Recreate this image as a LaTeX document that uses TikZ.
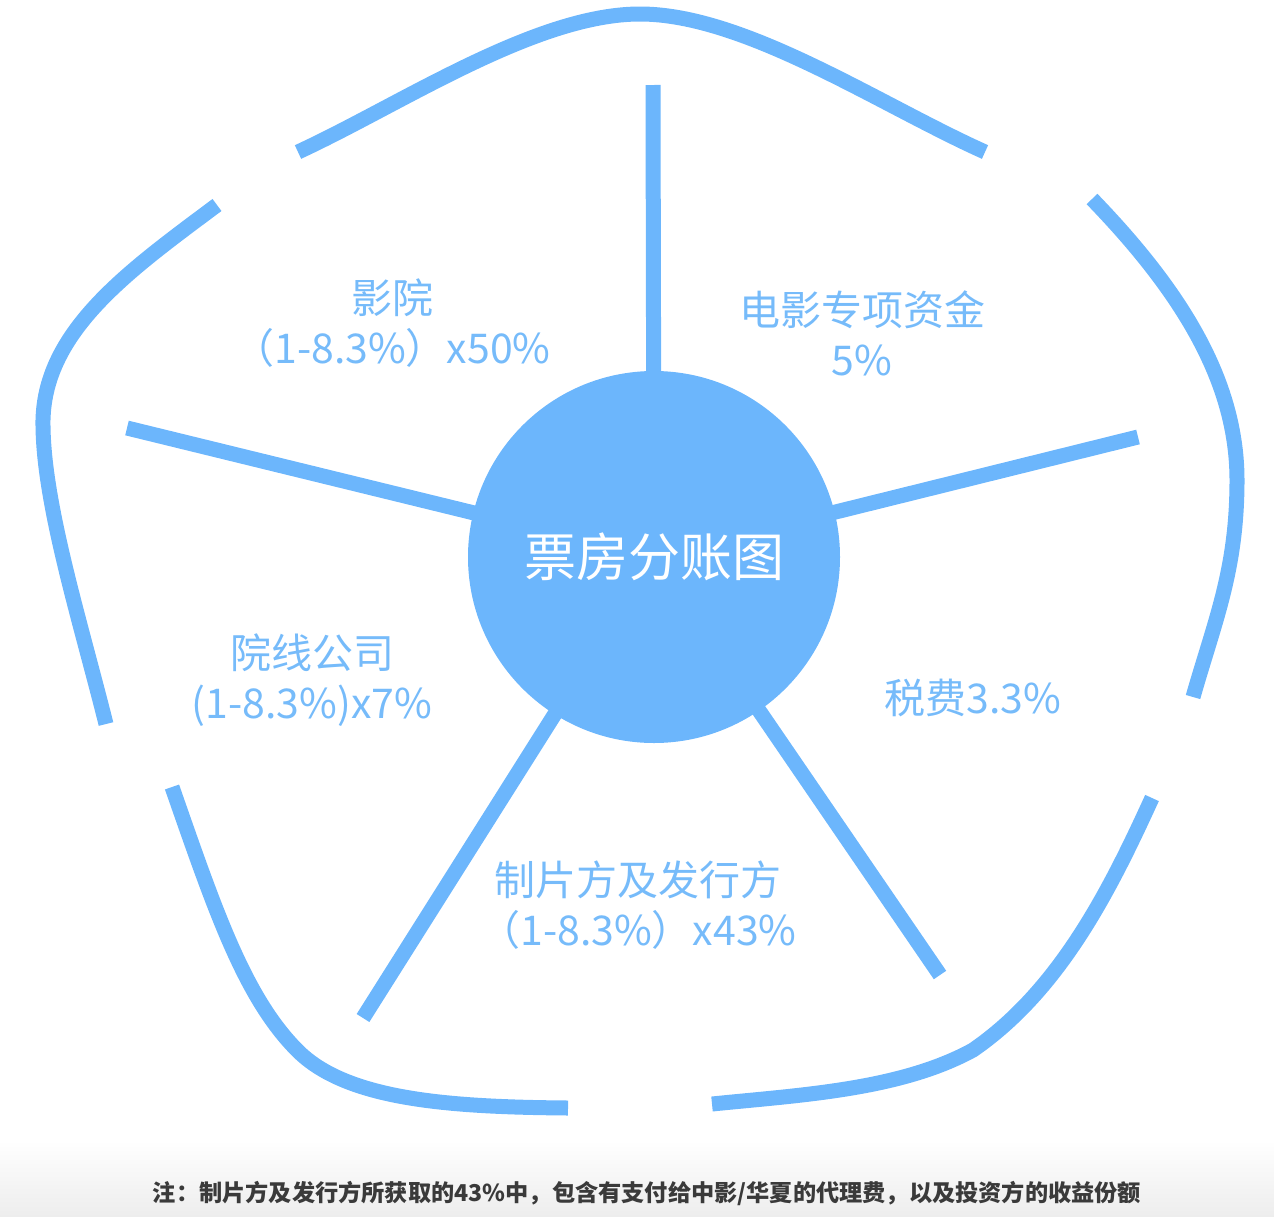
\documentclass[tikz,border=0pt]{standalone}
\usepackage{fontspec}
\newfontfamily\cjk{Noto Sans CJK SC}
\usetikzlibrary{positioning}
\definecolor{skyblue}{RGB}{108,182,252}
\definecolor{lblblue}{RGB}{118,187,250}
\definecolor{notegray}{RGB}{58,58,58}
\tikzset{
  rim/.style={draw=skyblue,line width=7.5pt},
  spoke/.style={draw=skyblue,line width=7.5pt},
  hubdisc/.style={circle,fill=skyblue,minimum size=186pt,inner sep=0pt,
    text=white,font=\cjk\fontsize{26}{30}\selectfont},
  lbl/.style={text=lblblue,align=center,inner sep=0pt,
    font=\cjk\fontsize{20.5}{25}\selectfont}
}
\begin{document}
\begin{tikzpicture}[x=0.5pt,y=-0.5pt]
\useasboundingbox (0,0) rectangle (1274,1216);
\shade[top color=white,bottom color=black!7] (0,1140) rectangle (1274,1216);

\draw[rim] (298,152) .. controls (400,105) and (535,14) .. (640,14)
  .. controls (745,14) and (880,105) .. (985,152);
\draw[rim] (1092,199) .. controls (1180,290) and (1237,380) .. (1237,480)
  .. controls (1237,570) and (1215,620) .. (1193,697);
\draw[rim] (1152,798) .. controls (1110,890) and (1060,990) .. (973,1050)
  .. controls (900,1090) and (800,1095) .. (712,1104);
\draw[rim] (568,1108) .. controls (450,1107) and (350,1100) .. (300,1053)
  .. controls (245,1000) and (215,910) .. (172,787);
\draw[rim] (106,724) .. controls (80,620) and (42,500) .. (43,420)
  .. controls (45,330) and (130,270) .. (217,205);

\coordinate (hubc) at (654,557);
\coordinate (topend) at (653,85);
\coordinate (rightend) at (1138,437);
\coordinate (leftend) at (127,428);
\coordinate (lowlend) at (363,1018);
\coordinate (lowrend) at (940,975);
\foreach \e in {topend,rightend,leftend,lowlend,lowrend}
  \draw[spoke] (hubc) -- (\e);
\node[hubdisc] (hub) at (hubc) {票房分账图};

\node[lbl] (cinema) at (392,323) {影院\\（1-8.3\%）x50\%};
\node[lbl] (fund) at (862,333) {电影专项资金\\5\%};
\node[lbl] (chain) at (312,680) {院线公司\\(1-8.3\%)x7\%};
\node[lbl] (tax) at (973,698) {税费3.3\%};
\node[lbl] (maker) at (638,905) {制片方及发行方\\（1-8.3\%）x43\%};

\node[text=notegray,inner sep=0pt,font=\cjk\bfseries\fontsize{11.6}{14}\selectfont]
  (note) at (647,1193) {注：制片方及发行方所获取的43\%中，包含有支付给中影/华夏的代理费，以及投资方的收益份额};
\end{tikzpicture}
\end{document}
